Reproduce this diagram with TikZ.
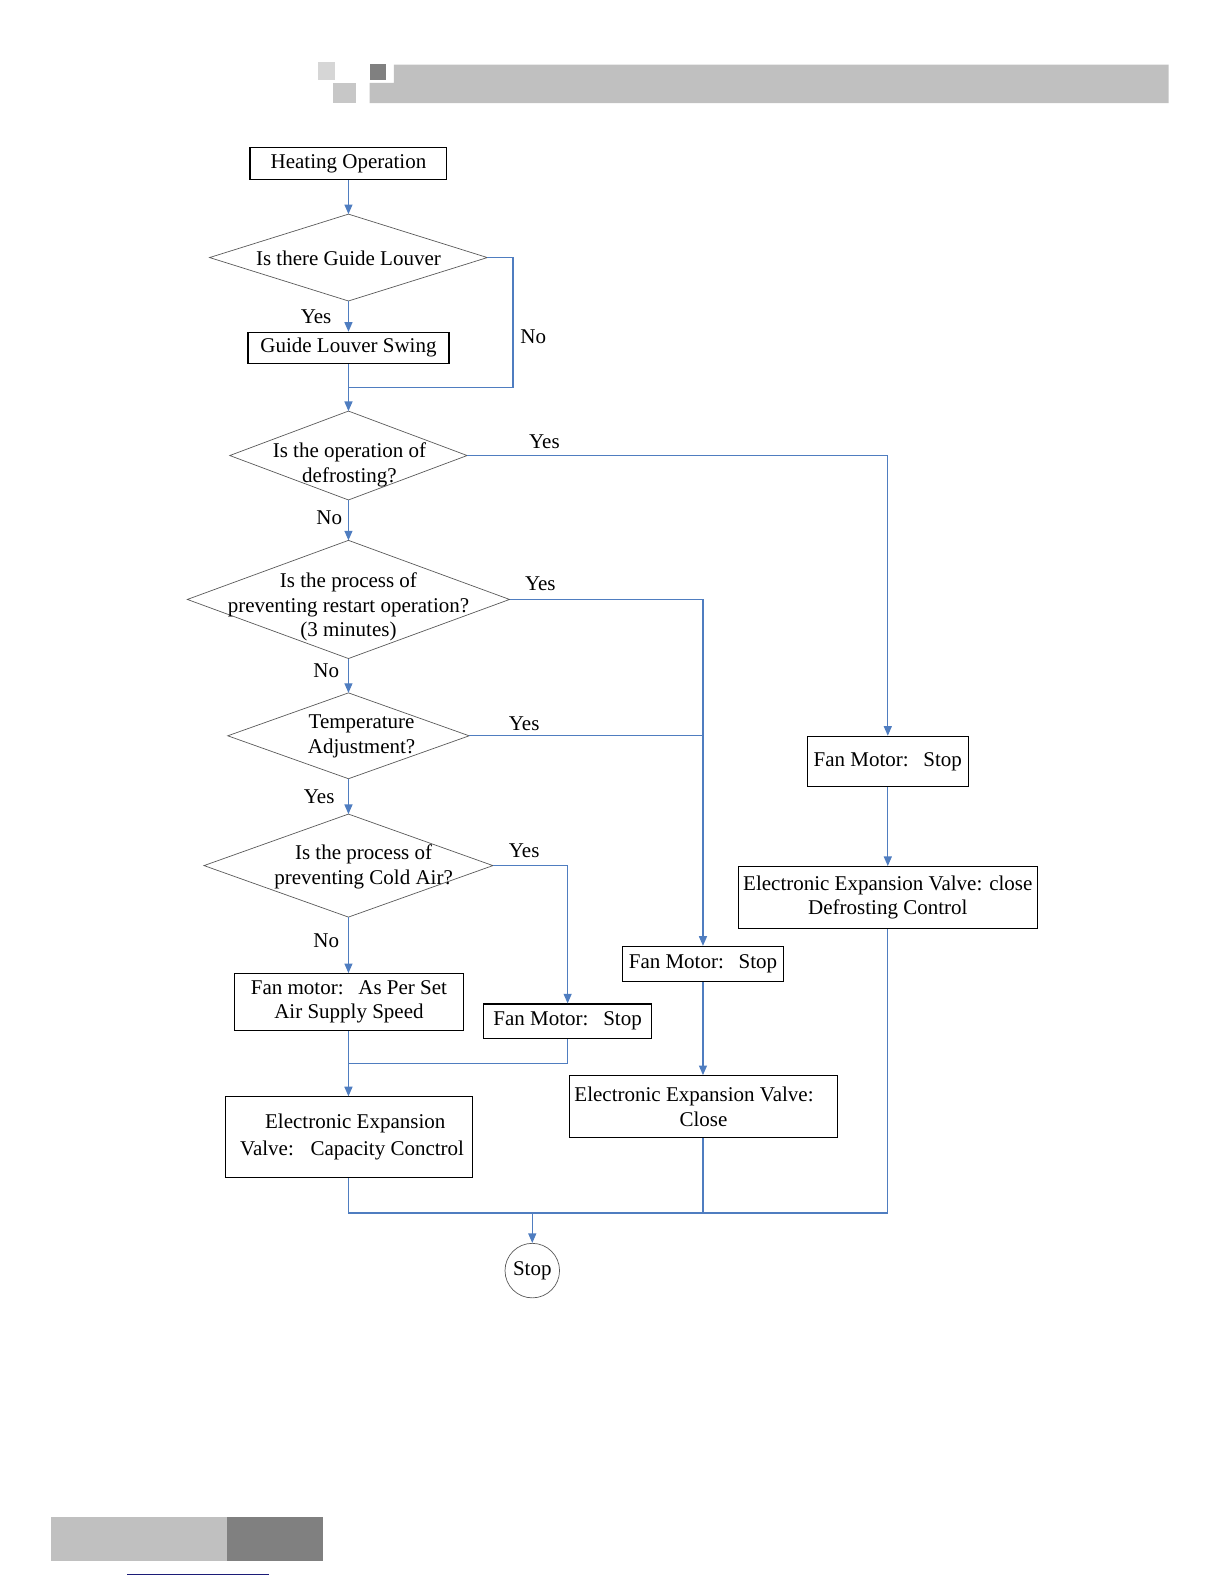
\documentclass[tikz,border=0pt]{standalone}
\usepackage{fontspec}
\setmainfont{Liberation Serif}
\usetikzlibrary{shapes.geometric,arrows.meta}
\definecolor{linkblue}{HTML}{4F7DC0}
\definecolor{barlight}{HTML}{C0C0C0}
\definecolor{bardark}{HTML}{808080}
\definecolor{navy}{HTML}{1C1C78}
\begin{document}
\begin{tikzpicture}[x=0.505pt,y=-0.505pt,
  font=\fontsize{10.5}{12.4}\selectfont,
  box/.style={draw=black,line width=0.55pt,inner sep=0pt,align=center},
  dia/.style={diamond,draw=black!65,line width=0.35pt,inner sep=0pt,outer sep=0pt},
  txt/.style={inner sep=0pt,align=center},
  lbl/.style={inner sep=0pt},
  flow/.style={draw=linkblue,line width=0.65pt},
  arr/.style={flow,-{Triangle[length=4.8pt,width=4pt]}}]
\useasboundingbox (0,0) rectangle (1211.9,1568.3);
% header
\fill[black!16] (315,61) rectangle (332,79);
\fill[black!22] (330,82) rectangle (352,102);
\fill[bardark] (366,63) rectangle (382,79);
\fill[barlight] (390,64) -- (1157,64) -- (1157,102) -- (366,102) -- (366,82) -- (390,82) -- cycle;
% footer
\fill[barlight] (50.5,1502) rectangle (225,1546);
\fill[bardark] (225,1502) rectangle (320,1546);
\draw[navy,line width=0.8pt] (126,1559) -- (266,1559);
% nodes
\node[box,minimum width=195*0.505pt,minimum height=32*0.505pt] (ho) at (345,162) {\raisebox{-0.6pt}{Heating Operation}};
\node[dia,minimum width=275*0.505pt,minimum height=86*0.505pt] (d1) at (345,255) {};
\node[txt] (d1t) at (345,256) {Is there Guide Louver};
\node[box,minimum width=199*0.505pt,minimum height=31*0.505pt] (gls) at (345,344.5) {\raisebox{-0.6pt}{Guide Louver Swing}};
\node[dia,minimum width=235*0.505pt,minimum height=88*0.505pt] (d2) at (345,451) {};
\node[txt] (d2t) at (346,460) {Is the operation of\\defrosting?};
\node[dia,minimum width=319*0.505pt,minimum height=117*0.505pt] (d3) at (345,593.5) {};
\node[txt] (d3t) at (345,601) {Is the process of\\preventing restart operation?\\(3 minutes)};
\node[dia,minimum width=239*0.505pt,minimum height=85*0.505pt] (d4) at (345,728.5) {};
\node[txt] (d4t) at (358,729) {Temperature\\Adjustment?};
\node[dia,minimum width=286*0.505pt,minimum height=102*0.505pt] (d5) at (345,857) {};
\node[txt] (d5t) at (360,858) {Is the process of\\preventing Cold Air?};
\node[box,minimum width=227*0.505pt,minimum height=56*0.505pt] (fma) at (345.5,992) {\raisebox{-0.6pt}{Fan motor:\hspace{0.7em}As Per Set}\\Air Supply Speed};
\node[box,minimum width=166*0.505pt,minimum height=34*0.505pt] (fms) at (562,1011) {\raisebox{-0.8pt}{Fan Motor:\hspace{0.7em}Stop}};
\node[box,minimum width=245*0.505pt,minimum height=80*0.505pt,font=\fontsize{10.5}{13.5}\selectfont] (eevc) at (345.5,1126) {\hspace*{0.6em}Electronic Expansion\\\hspace*{0.3em}Valve:\hspace{0.8em}Capacity Conctrol};
\node[box,minimum width=160*0.505pt,minimum height=35*0.505pt] (fmm) at (696,954.5) {\raisebox{-0.8pt}{Fan Motor:\hspace{0.7em}Stop}};
\node[box,minimum width=265*0.505pt,minimum height=61*0.505pt] (eevx) at (696.5,1095.5) {Electronic Expansion Valve:\hspace*{0.9em}\\Close};
\node[box,minimum width=159*0.505pt,minimum height=50*0.505pt] (fmr) at (879,754) {\raisebox{-0.8pt}{Fan Motor:\hspace{0.7em}Stop}};
\node[box,minimum width=296*0.505pt,minimum height=61*0.505pt] (eevd) at (879,888.5) {Electronic Expansion Valve: close\\Defrosting Control};
\node[circle,draw=black!65,line width=0.35pt,inner sep=0pt,minimum size=54*0.505pt] (stop) at (527,1258) {\raisebox{-0.6pt}{Stop}};
% coordinates
\coordinate (n1) at (508,384);
\coordinate (m1) at (345,384);
\coordinate (m2) at (345,1053);
\coordinate (m3) at (527,1201);
% connectors
\draw[arr] (ho.south) -- (d1.north);
\draw[arr] (d1.south) -- (gls.north -| d1.south);
\draw[flow] (d1.east) -| (n1) -- (m1);
\draw[flow] (gls.south -| m1) -- (m1);
\draw[arr] (m1) -- (d2.north);
\draw[arr] (d2.east) -| (fmr.north);
\draw[arr] (d2.south) -- (d3.north);
\draw[arr] (d3.east) -| (fmm.north);
\draw[arr] (d3.south) -- (d4.north);
\draw[flow] (d4.east) -- (d4.east -| fmm.north);
\draw[arr] (d4.south) -- (d5.north);
\draw[arr] (d5.east) -| (fms.north);
\draw[arr] (d5.south) -- (fma.north -| d5.south);
\draw[flow] (fma.south -| m2) -- (m2);
\draw[flow] (fms.south) |- (m2);
\draw[arr] (m2) -- (eevc.north -| m2);
\draw[arr] (fmm.south) -- (eevx.north -| fmm.south);
\draw[arr] (fmr.south) -- (eevd.north -| fmr.south);
\draw[flow] (eevc.south -| m2) |- (m3);
\draw[flow] (eevx.south -| fmm.south) |- (m3);
\draw[flow] (eevd.south -| fmr.south) |- (m3);
\draw[arr] (m3) -- (stop.north);
% labels
\node[lbl] (l1) at (313,314) {Yes};
\node[lbl] (l2) at (528,333) {No};
\node[lbl] (l3) at (539,437) {Yes};
\node[lbl] (l4) at (326,513) {No};
\node[lbl] (l5) at (535,578) {Yes};
\node[lbl] (l6) at (323,664) {No};
\node[lbl] (l7) at (519,717) {Yes};
\node[lbl] (l8) at (316,789) {Yes};
\node[lbl] (l9) at (519,842) {Yes};
\node[lbl] (l10) at (323,931) {No};
\end{tikzpicture}
\end{document}
